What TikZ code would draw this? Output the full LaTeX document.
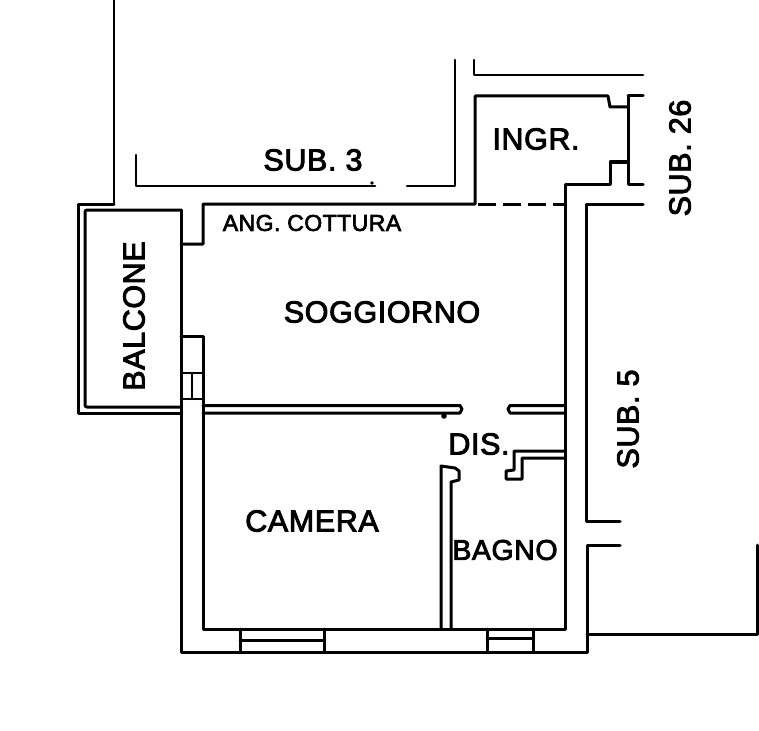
\documentclass[tikz,border=0pt]{standalone}
\usepackage{fontspec}
\setmainfont[FakeBold=3,LetterSpace=2]{Liberation Sans}
\tikzset{
  wall/.style={draw=black,line width=3pt,line join=round,line cap=round},
  thin wall/.style={draw=black,line width=2.6pt,line join=round,line cap=round},
  label/.style={inner sep=0pt,text=black,font=\fontsize{30.5}{33}\selectfont},
  narrow label/.style={inner sep=0pt,text=black,font=\fontsize{28.5}{31}\selectfont},
  small label/.style={inner sep=0pt,text=black,font=\fontsize{23}{26}\selectfont},
}
\begin{document}
\begin{tikzpicture}[x=1pt,y=-1pt]
\useasboundingbox (0,0) rectangle (759,730);
\fill[white] (0,0) rectangle (759,730);
% outer context lines
\draw[thin wall] (114,0) -- (114,204);
\draw[thin wall] (136,155) -- (136,186) -- (375,186);
\draw[thin wall] (407,186) -- (455,186) -- (455,60);
\fill (372,183) circle (1.8pt);
\draw[thin wall] (474,60) -- (474,75) -- (643,75);
% balcony
\draw[wall] (114,204) -- (78,204) -- (78,413) -- (181,413);
\draw[wall,rounded corners=2pt] (181,210) -- (85,210) -- (85,407) -- (181,407);
% main perimeter
\draw[wall] (181,210) -- (181,652) -- (587,652) -- (587,545) -- (620,545);
\draw[wall] (181,244) -- (203,244) -- (203,204) -- (475,204) -- (475,96) -- (608,96) -- (610,107) -- (628,107);
\draw[wall,dashed,dash pattern=on 18pt off 7pt,line cap=butt] (478,204) -- (565,204);
\draw[wall] (628,96) -- (643,96);
\draw[wall] (628,96) -- (628,184) -- (643,184);
\draw[wall] (628,162) -- (610,162) -- (610,184) -- (565,184) -- (565,629);
\draw[wall] (643,204) -- (586,204) -- (586,521) -- (620,521);
\draw[wall] (587,634) -- (757,634) -- (757,545);
% french window
\draw[wall] (181,336) -- (203,336) -- (203,629) -- (565,629);
\draw[thin wall] (181,373) -- (203,373);
\draw[thin wall] (181,399) -- (203,399);
\draw[thin wall] (192,373) -- (192,399);
% partition between living room and bedroom
\draw[wall] (203,405.5) -- (460,405.5) -- (462,409) -- (460,413) -- (203,413);
\fill (444,416) circle (2.8pt);
\draw[wall] (565,405.5) -- (510,405.5) -- (508,409) -- (510,413) -- (565,413);
% bathroom partition
\draw[wall] (441,629) -- (441,466) -- (455,468) -- (459,471) -- (459,480) -- (451,482) -- (451,629);
\draw[wall] (565,451) -- (514,451) -- (514,470) -- (506,471) -- (506,479) -- (522,479) -- (522,458) -- (565,458);
% windows
\draw[wall] (240,629) -- (240,652);
\draw[wall] (324,629) -- (324,652);
\draw[wall] (240,640) -- (324,640);
\draw[wall] (487,629) -- (487,652);
\draw[wall] (533,629) -- (533,652);
\draw[wall] (487,638) -- (533,638);
% labels
\node[label] (sub3) at (313,160) {SUB. 3};
\node[label] (ingr) at (536,139) {INGR.};
\node[label] (sub26) at (680,158) [rotate=90] {SUB. 26};
\node[small label] (ang) at (312,223) {ANG. COTTURA};
\node[label] (sogg) at (382,312) {SOGGIORNO};
\node[label] (balc) at (134,316) [rotate=90] {BALCONE};
\node[label] (sub5) at (628,419) [rotate=90] {SUB. 5};
\node[label] (dis) at (479,444) {DIS.};
\node[label] (cam) at (312,521) {CAMERA};
\node[narrow label] (bagno) at (505,550) {BAGNO};
\end{tikzpicture}
\end{document}
